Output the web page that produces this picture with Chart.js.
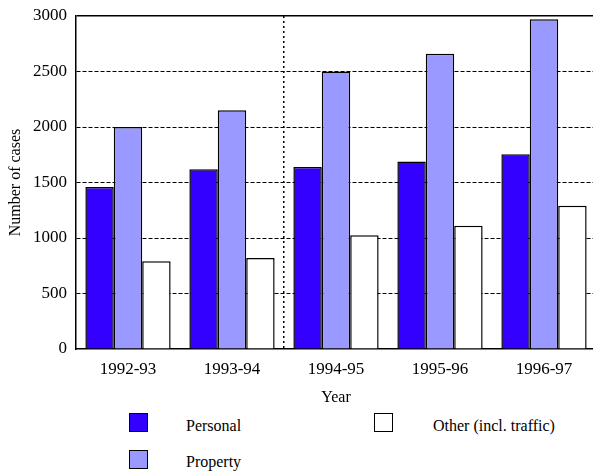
<!DOCTYPE html>
<html>
<head>
<meta charset="utf-8">
<script src="https://cdn.jsdelivr.net/npm/chart.js@4/dist/chart.umd.min.js"></script>
<style>
  html, body { margin: 0; padding: 0; background: #fff; overflow: hidden; width: 593px; height: 471px; }
  #wrap { position: absolute; left: 0; top: 0; width: 600px; height: 411px; }
  .key { position: absolute; font-family: "Liberation Serif", "Times New Roman", serif; font-size: 16px; color: #000; }
  .swatch { position: absolute; width: 17px; height: 17px; border: 1.5px solid #000; }
  .label { position: absolute; white-space: nowrap; line-height: 20px; }
</style>
</head>
<body>
<div id="wrap"><canvas id="chart"></canvas></div>
<div id="legend"></div>
<script>
// Case counts by year and offence type
const years = ['1992-93', '1993-94', '1994-95', '1995-96', '1996-97'];
const personal = [1460, 1620, 1640, 1690, 1755];
const property = [2000, 2150, 2500, 2660, 2970];
const other = [790, 820, 1025, 1110, 1290];
const seriesNames = ['Personal', 'Property', 'Other (incl. traffic)'];
const seriesColors = ['#3300ff', '#9999ff', '#ffffff'];
const yTicks = [0, 500, 1000, 1500, 2000, 2500, 3000];

const serif = '"Liberation Serif", "Times New Roman", serif';

new Chart(document.getElementById('chart'), {
  type: 'bar',
  data: {
    labels: years,
    datasets: [personal, property, other].map((values, i) => ({
      label: seriesNames[i],
      data: values,
      backgroundColor: seriesColors[i],
      borderColor: '#000',
      borderWidth: 1.5,
      categoryPercentage: 0.82,
      barPercentage: 1.0
    }))
  },
  options: {
    responsive: true,
    maintainAspectRatio: false,
    animation: false,
    layout: { padding: { top: 16, right: 4, left: 0, bottom: 0 } },
    plugins: { legend: { display: false }, tooltip: { enabled: false } },
    scales: {
      x: {
        offset: true,
        grid: {
          offset: true,
          drawTicks: false,
          lineWidth: 1.5,
          // single dotted divider between 1993-94 and 1994-95
          color: ctx => ctx.index === 2 ? '#000' : 'rgba(0,0,0,0)'
        },
        border: { display: true, color: '#000', width: 1.5, dash: [2, 3] },
        ticks: { color: '#000', padding: 10, font: { family: serif, size: 17 } },
        title: {
          display: true, text: 'Year', color: '#000',
          font: { family: serif, size: 16 }, padding: { top: 0, bottom: 4 }
        },
        afterFit: s => { s.height = 62; }
      },
      y: {
        min: 0,
        max: 3000,
        afterBuildTicks: s => { s.ticks = yTicks.map(v => ({ value: v })); },
        grid: {
          drawTicks: false,
          lineWidth: ctx => ctx.tick && ctx.tick.value === 3000 ? 1.5 : 1,
          color: ctx => ctx.tick && ctx.tick.value === 0 ? 'rgba(0,0,0,0)' : '#000'
        },
        border: {
          display: true, color: '#000', width: 1.5,
          dash: ctx => ctx.tick && ctx.tick.value === 3000 ? [] : [4, 2]
        },
        ticks: {
          color: '#000', padding: 9, font: { family: serif, size: 17 },
          callback: v => String(v)
        },
        title: {
          display: true, text: 'Number of cases', color: '#000',
          font: { family: serif, size: 16 }, padding: { top: 6, bottom: 0 }
        },
        afterFit: s => { s.width = 76; s.paddingTop = 0; s.paddingBottom = 0; }
      }
    }
  }
});

// Legend laid out in two columns: Personal / Property, then Other
const legendSlots = [
  { box: [129, 413], text: [186, 416] },
  { box: [129, 450], text: [186, 452] },
  { box: [374, 413], text: [433, 416] }
];
const legend = document.getElementById('legend');
seriesNames.forEach((name, i) => {
  const slot = legendSlots[i];
  const sw = document.createElement('div');
  sw.className = 'swatch';
  sw.style.left = slot.box[0] + 'px';
  sw.style.top = slot.box[1] + 'px';
  sw.style.background = seriesColors[i];
  legend.appendChild(sw);
  const lb = document.createElement('div');
  lb.className = 'key label';
  lb.style.left = slot.text[0] + 'px';
  lb.style.top = slot.text[1] + 'px';
  lb.textContent = name;
  legend.appendChild(lb);
});
</script>
</body>
</html>
